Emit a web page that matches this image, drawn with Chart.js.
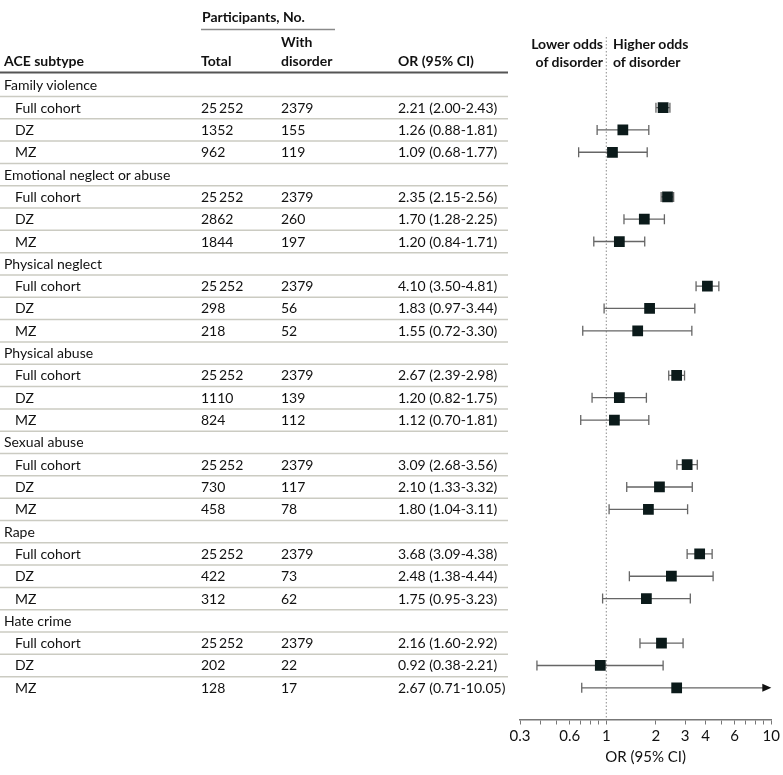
<!DOCTYPE html>
<html>
<head>
<title>ACE subtypes and odds of disorder</title>
<script src="https://cdn.jsdelivr.net/npm/chart.js"></script>
<style>
  body { margin: 0; background: #fff; font-family: Lato, sans-serif; }
  #wrap { position: relative; width: 783px; height: 775px; }
  #wrap canvas { position: absolute; left: 0; top: 0; }
  .t { position: absolute; font-size: 14px; line-height: 16px; color: #111; white-space: nowrap; transform: translateY(-50%); }
  .r { transform: translate(-100%, -50%); }
  .b { font-weight: bold; }
</style>
</head>
<body>
<div id="wrap"><canvas id="myChart" width="783" height="775"></canvas></div>

<script>
// ACE subtypes (group headings) and the three samples in each
const groups = ['Family violence', 'Emotional neglect or abuse', 'Physical neglect',
                'Physical abuse', 'Sexual abuse', 'Rape', 'Hate crime'];
const cohorts = ['Full cohort', 'DZ', 'MZ'];

// one entry per sub-row, groups in order, each as Full cohort / DZ / MZ
const totals = [25252, 1352, 962,  25252, 2862, 1844,  25252, 298, 218,
                25252, 1110, 824,  25252, 730, 458,    25252, 422, 312,
                25252, 202, 128];
const withDisorder = [2379, 155, 119,  2379, 260, 197,  2379, 56, 52,
                      2379, 139, 112,  2379, 117, 78,   2379, 73, 62,
                      2379, 22, 17];
const orValues = [2.21, 1.26, 1.09,  2.35, 1.70, 1.20,  4.10, 1.83, 1.55,
                  2.67, 1.20, 1.12,  3.09, 2.10, 1.80,  3.68, 2.48, 1.75,
                  2.16, 0.92, 2.67];
const ciLow = [2.00, 0.88, 0.68,  2.15, 1.28, 0.84,  3.50, 0.97, 0.72,
               2.39, 0.82, 0.70,  2.68, 1.33, 1.04,  3.09, 1.38, 0.95,
               1.60, 0.38, 0.71];
const ciHigh = [2.43, 1.81, 1.77,  2.56, 2.25, 1.71,  4.81, 3.44, 3.30,
                2.98, 1.75, 1.81,  3.56, 3.32, 3.11,  4.38, 4.44, 3.23,
                2.92, 2.21, 10.05];

// x axis ticks
const tickValues = [0.3, 0.4, 0.5, 0.6, 0.7, 0.8, 0.9, 1, 2, 3, 4, 5, 6, 7, 8, 9, 10];
const tickLabels = [0.3, 0.6, 1, 2, 3, 4, 6, 10];

const X_MIN = 0.3, X_MAX = 10;
const TEXT = '#111';

// row index of each sub-row: headings take one row each
function rowOf(k) {
    return Math.floor(k / 3) * 4 + (k % 3) + 1;
}

const points = orValues.map((v, k) => ({ x: v, y: rowOf(k) }));

function fmtN(n) {
    let s = String(n);
    if (s.length > 4) s = s.slice(0, s.length - 3) + '\u2009' + s.slice(-3);
    return s;
}

// table rules, reference line and CI whiskers
const forestPlugin = {
    id: 'forest',
    beforeDatasetsDraw(chart) {
        const ctx = chart.ctx;
        const xs = chart.scales.x, ys = chart.scales.y;
        const nRows = groups.length * 4;
        ctx.save();

        // thin rules between table rows
        ctx.strokeStyle = '#cbcbc2';
        ctx.lineWidth = 1.5;
        for (let i = 0; i < nRows - 1; i++) {
            const y = ys.getPixelForValue(i + 0.5);
            ctx.beginPath();
            ctx.moveTo(0, y);
            ctx.lineTo(508, y);
            ctx.stroke();
        }

        // header rules
        ctx.strokeStyle = '#8a8a8a';
        ctx.lineWidth = 1.5;
        ctx.beginPath();
        ctx.moveTo(201, 29.5);
        ctx.lineTo(335, 29.5);
        ctx.stroke();
        ctx.strokeStyle = '#555';
        ctx.lineWidth = 2;
        ctx.beginPath();
        ctx.moveTo(0, 72.5);
        ctx.lineTo(508, 72.5);
        ctx.stroke();

        // dotted line at OR = 1
        const x1 = xs.getPixelForValue(1);
        ctx.strokeStyle = '#8c8c8c';
        ctx.lineWidth = 1;
        ctx.setLineDash([1.5, 2]);
        ctx.beginPath();
        ctx.moveTo(x1, 37);
        ctx.lineTo(x1, chart.chartArea.bottom);
        ctx.stroke();
        ctx.setLineDash([]);

        // whiskers
        ctx.strokeStyle = '#666';
        ctx.fillStyle = '#111';
        ctx.lineWidth = 1.3;
        orValues.forEach((v, k) => {
            const y = ys.getPixelForValue(rowOf(k));
            const lo = Math.max(ciLow[k], X_MIN);
            const hi = Math.min(ciHigh[k], X_MAX);
            const xa = xs.getPixelForValue(lo);
            const xb = xs.getPixelForValue(hi);
            ctx.beginPath();
            ctx.moveTo(xa, y);
            ctx.lineTo(ciHigh[k] > X_MAX ? xb - 6 : xb, y);
            if (ciLow[k] >= X_MIN) {
                ctx.moveTo(xa, y - 5);
                ctx.lineTo(xa, y + 5);
            }
            if (ciHigh[k] <= X_MAX) {
                ctx.moveTo(xb, y - 5);
                ctx.lineTo(xb, y + 5);
            }
            ctx.stroke();
            if (ciHigh[k] > X_MAX) {
                ctx.beginPath();
                ctx.moveTo(xb, y);
                ctx.lineTo(xb - 9, y - 4);
                ctx.lineTo(xb - 9, y + 4);
                ctx.closePath();
                ctx.fill();
            }
        });
        ctx.restore();
    }
};

let ctx = document.getElementById('myChart').getContext('2d');
window.myChart = new Chart(ctx, {
    type: 'scatter',
    data: {
        datasets: [{
            label: 'OR',
            data: points,
            pointStyle: 'rect',
            pointRadius: 7.6,
            pointHoverRadius: 7.6,
            pointBorderWidth: 0,
            backgroundColor: '#0b1a1a',
            borderColor: '#0b1a1a'
        }]
    },
    options: {
        responsive: false,
        animation: false,
        layout: { padding: { left: 520, right: 8, top: 63, bottom: 0 } },
        plugins: {
            legend: { display: false },
            tooltip: { enabled: false }
        },
        scales: {
            x: {
                type: 'logarithmic',
                position: 'bottom',
                min: X_MIN,
                max: X_MAX,
                afterBuildTicks: (scale) => {
                    scale.ticks = tickValues.map(v => ({ value: v }));
                },
                afterFit: (scale) => { scale.height = 55.5; },
                ticks: {
                    autoSkip: false,
                    maxRotation: 0,
                    padding: 3,
                    color: TEXT,
                    font: { family: 'Lato', size: 15 },
                    callback: (v) => tickLabels.includes(v) ? String(v) : ''
                },
                grid: {
                    drawOnChartArea: false,
                    drawTicks: true,
                    tickLength: 5,
                    color: '#777',
                    lineWidth: 1
                },
                border: { color: '#777', width: 1.5 },
                title: {
                    display: true,
                    text: 'OR (95% CI)',
                    color: TEXT,
                    font: { family: 'Lato', size: 15 },
                    padding: { top: 0, bottom: 9 }
                }
            },
            y: {
                type: 'linear',
                reverse: true,
                min: -1,
                max: 28.42,
                display: false
            }
        }
    },
    plugins: [forestPlugin]
});

// table text as html, rows placed with the chart's own y scale
const wrap = document.getElementById('wrap');
function addText(str, x, y, cls) {
    const d = document.createElement('div');
    d.className = 't' + (cls ? ' ' + cls : '');
    d.textContent = str;
    d.style.left = x + 'px';
    d.style.top = y + 'px';
    wrap.appendChild(d);
}

addText('Participants, No.', 202, 17, 'b');
addText('With', 281, 42, 'b');
addText('ACE subtype', 4, 61, 'b');
addText('Total', 201, 61, 'b');
addText('disorder', 281, 61, 'b');
addText('OR (95% CI)', 398, 61, 'b');
addText('Lower odds', 603, 44, 'b r');
addText('of disorder', 603, 62, 'b r');
addText('Higher odds', 613, 44, 'b');
addText('of disorder', 613, 62, 'b');

const yScale = window.myChart.scales.y;
groups.forEach((g, gi) => {
    addText(g, 4, yScale.getPixelForValue(gi * 4));
});
orValues.forEach((v, k) => {
    const y = yScale.getPixelForValue(rowOf(k));
    addText(cohorts[k % 3], 15, y);
    addText(fmtN(totals[k]), 201, y);
    addText(String(withDisorder[k]), 281, y);
    addText(v.toFixed(2) + ' (' + ciLow[k].toFixed(2) + '-' + ciHigh[k].toFixed(2) + ')', 398, y);
});
</script>
</body>
</html>
